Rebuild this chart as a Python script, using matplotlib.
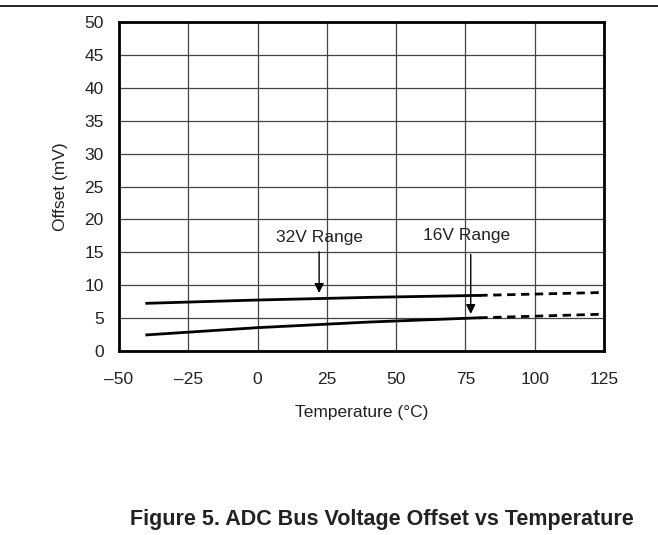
import matplotlib.pyplot as plt
from matplotlib.lines import Line2D

plt.rcParams['font.family'] = ['Liberation Sans', 'DejaVu Sans']

# measured curve (solid) and extrapolated (dashed)
temp_solid = [-40, 0, 40, 80]
range32_solid = [7.25, 7.75, 8.15, 8.45]
range16_solid = [2.45, 3.55, 4.4, 5.05]
temp_dash = [80, 125]
range32_dash = [8.45, 8.9]
range16_dash = [5.05, 5.6]

xticks = [-50, -25, 0, 25, 50, 75, 100, 125]
xtick_labels = ['\u201350', '\u201325', '0', '25', '50', '75', '100', '125']
yticks = [0, 5, 10, 15, 20, 25, 30, 35, 40, 45, 50]

fs = 12.5
fig = plt.figure(figsize=(6.58, 5.35), dpi=100)
ax = fig.add_axes([0.1809, 0.3439, 0.7371, 0.615])

ax.plot(temp_solid, range32_solid, color='black', lw=2)
ax.plot(temp_solid, range16_solid, color='black', lw=2)
ax.plot(temp_dash, range32_dash, color='black', lw=2, ls=(0, (3, 2)))
ax.plot(temp_dash, range16_dash, color='black', lw=2, ls=(0, (3, 2)))

ax.set_xlim(-50, 125)
ax.set_ylim(0, 50)
ax.set_xticks(xticks)
ax.set_xticklabels(xtick_labels)
ax.set_yticks(yticks)
ax.grid(True, color='#444444', lw=0.9)
ax.set_axisbelow(True)
ax.tick_params(length=0, labelsize=fs, colors='#222222')
ax.tick_params(axis='x', pad=15)
ax.tick_params(axis='y', pad=11)
for s in ax.spines.values():
    s.set_linewidth(2)

ax.set_xlabel('Temperature (\u00b0C)', fontsize=fs, color='#222222', labelpad=13)
ax.set_ylabel('Offset (mV)', fontsize=fs, color='#222222', labelpad=12)

# annotations
ax.text(22.5, 17.2, '32V Range', fontsize=fs, ha='center', va='center', color='#222222')
ax.text(75.5, 17.6, '16V Range', fontsize=fs, ha='center', va='center', color='#222222')
ax.annotate('', xy=(22.2, 8.4), xytext=(22.2, 15.5),
            arrowprops=dict(arrowstyle='-|>', color='black', lw=1, mutation_scale=14))
ax.annotate('', xy=(76.9, 5.2), xytext=(76.9, 15.1),
            arrowprops=dict(arrowstyle='-|>', color='black', lw=1, mutation_scale=14))

# top rule and caption
fig.add_artist(Line2D([0, 1], [1 - 6 / 535, 1 - 6 / 535], color='black', lw=1.2))
fig.text(0.58, 1 - 519 / 535, 'Figure 5. ADC Bus Voltage Offset vs Temperature',
         fontsize=15.5, fontweight='bold', ha='center', va='center', color='#222222')

fig.savefig('out.png', dpi=100)
